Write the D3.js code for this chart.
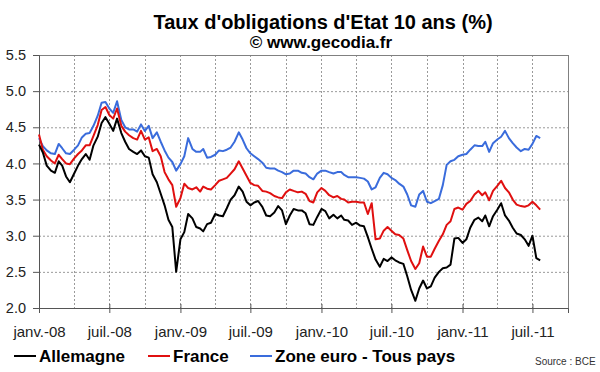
<!DOCTYPE html>
<html>
<head>
<meta charset="utf-8">
<script src="https://cdnjs.cloudflare.com/ajax/libs/d3/7.8.5/d3.min.js"></script>
<style>
body { margin: 0; background: #fff; }
svg { font-family: "Liberation Sans", Arial, sans-serif; }
.grid line { stroke: #9a9a9a; stroke-width: 1; stroke-dasharray: 2,2; }
.axis text { fill: #222; font-size: 14.5px; }
.x.axis text { font-size: 15px; }
.axis line { stroke: #555; }
</style>
</head>
<body>
<svg id="chart" width="600" height="372"></svg>
<script>
// 3 readings per month (1st, 11th, 21st)
var dates = [
  "2008-01-01","2008-01-11","2008-01-21","2008-02-01","2008-02-11","2008-02-21","2008-03-01","2008-03-11","2008-03-21",
  "2008-04-01","2008-04-11","2008-04-21","2008-05-01","2008-05-11","2008-05-21","2008-06-01","2008-06-11","2008-06-21",
  "2008-07-01","2008-07-11","2008-07-21","2008-08-01","2008-08-11","2008-08-21","2008-09-01","2008-09-11","2008-09-21",
  "2008-10-01","2008-10-11","2008-10-21","2008-11-01","2008-11-11","2008-11-21","2008-12-01","2008-12-11","2008-12-21",
  "2009-01-01","2009-01-11","2009-01-21","2009-02-01","2009-02-11","2009-02-21","2009-03-01","2009-03-11","2009-03-21",
  "2009-04-01","2009-04-11","2009-04-21","2009-05-01","2009-05-11","2009-05-21","2009-06-01","2009-06-11","2009-06-21",
  "2009-07-01","2009-07-11","2009-07-21","2009-08-01","2009-08-11","2009-08-21","2009-09-01","2009-09-11","2009-09-21",
  "2009-10-01","2009-10-11","2009-10-21","2009-11-01","2009-11-11","2009-11-21","2009-12-01","2009-12-11","2009-12-21",
  "2010-01-01","2010-01-11","2010-01-21","2010-02-01","2010-02-11","2010-02-21","2010-03-01","2010-03-11","2010-03-21",
  "2010-04-01","2010-04-11","2010-04-21","2010-05-01","2010-05-11","2010-05-21","2010-06-01","2010-06-11","2010-06-21",
  "2010-07-01","2010-07-11","2010-07-21","2010-08-01","2010-08-11","2010-08-21","2010-09-01","2010-09-11","2010-09-21",
  "2010-10-01","2010-10-11","2010-10-21","2010-11-01","2010-11-11","2010-11-21","2010-12-01","2010-12-11","2010-12-21",
  "2011-01-01","2011-01-11","2011-01-21","2011-02-01","2011-02-11","2011-02-21","2011-03-01","2011-03-11","2011-03-21",
  "2011-04-01","2011-04-11","2011-04-21","2011-05-01","2011-05-11","2011-05-21","2011-06-01","2011-06-11","2011-06-21",
  "2011-07-01","2011-07-11","2011-07-21"
];

var allemagne = [
  4.26,4.15,3.97,3.90,3.87,4.03,3.97,3.82,3.74,3.86,3.97,4.06,4.13,4.05,4.25,4.37,4.56,4.64,
  4.55,4.45,4.62,4.42,4.30,4.20,4.16,4.13,4.18,4.10,4.08,3.85,3.74,3.58,3.42,3.22,3.12,2.50,
  2.95,3.05,3.30,3.24,3.12,3.10,3.06,3.16,3.18,3.30,3.28,3.27,3.38,3.50,3.56,3.68,3.61,3.47,
  3.42,3.46,3.48,3.40,3.28,3.27,3.32,3.41,3.35,3.16,3.28,3.37,3.35,3.35,3.31,
  3.16,3.15,3.26,3.37,3.34,3.24,3.29,3.24,3.28,3.22,3.21,3.15,3.18,3.14,3.13,2.98,2.82,2.67,
  2.57,2.68,2.65,2.70,2.66,2.63,2.61,2.44,2.25,2.10,2.27,2.38,2.27,2.30,2.42,2.50,
  2.55,2.56,2.60,2.96,2.97,2.90,2.95,3.11,3.22,3.25,3.20,3.28,3.13,3.27,3.36,3.45,3.28,3.21,
  3.11,3.03,3.01,2.95,2.86,3.00,2.69,2.66
];

var france = [
  4.40,4.19,4.10,4.04,4.00,4.12,4.06,4.00,3.99,4.07,4.13,4.18,4.25,4.25,4.38,4.53,4.74,4.78,
  4.67,4.62,4.76,4.52,4.44,4.39,4.35,4.33,4.45,4.33,4.36,4.17,4.20,4.10,3.88,3.78,3.70,3.40,
  3.52,3.72,3.66,3.64,3.67,3.61,3.68,3.65,3.64,3.70,3.76,3.78,3.80,3.86,3.92,4.03,3.93,3.83,
  3.73,3.70,3.69,3.62,3.61,3.59,3.55,3.53,3.52,3.60,3.64,3.62,3.60,3.61,3.58,
  3.48,3.46,3.60,3.66,3.62,3.56,3.53,3.55,3.51,3.50,3.46,3.47,3.47,3.46,3.46,3.30,3.45,2.95,
  2.96,3.07,3.12,3.07,3.02,3.01,2.96,2.80,2.65,2.54,2.62,2.85,2.71,2.71,2.82,2.93,
  3.02,3.15,3.20,3.37,3.39,3.36,3.44,3.48,3.57,3.62,3.56,3.60,3.49,3.62,3.69,3.76,3.66,3.60,
  3.50,3.43,3.41,3.40,3.42,3.47,3.42,3.36
];

var zoneEuro = [
  4.35,4.24,4.18,4.14,4.13,4.27,4.21,4.14,4.13,4.19,4.25,4.36,4.41,4.42,4.52,4.66,4.84,4.85,
  4.76,4.70,4.86,4.60,4.50,4.47,4.47,4.44,4.54,4.45,4.52,4.35,4.43,4.30,4.18,4.08,4.02,3.90,
  3.99,4.10,4.35,4.20,4.16,4.16,4.20,4.08,4.09,4.12,4.18,4.17,4.19,4.22,4.30,4.43,4.33,4.21,
  4.14,4.10,4.06,4.01,3.94,3.93,3.93,3.90,3.88,3.85,3.86,3.90,3.90,3.87,3.86,
  3.81,3.78,3.86,3.90,3.90,3.88,3.86,3.88,3.88,3.84,3.81,3.81,3.81,3.80,3.79,3.75,3.64,3.67,
  3.80,3.87,3.85,3.80,3.77,3.72,3.68,3.57,3.42,3.40,3.57,3.62,3.47,3.45,3.48,3.51,
  3.70,3.98,4.03,4.05,4.10,4.12,4.13,4.19,4.25,4.24,4.24,4.30,4.16,4.28,4.33,4.37,4.45,4.35,
  4.28,4.22,4.17,4.20,4.19,4.27,4.38,4.35
];

var yTicks = [2.0, 2.5, 3.0, 3.5, 4.0, 4.5, 5.0, 5.5];
var xTicks = ["2008-01-01","2008-07-01","2009-01-01","2009-07-01","2010-01-01","2010-07-01","2011-01-01","2011-07-01"];
var xTickLabels = ["janv.-08","juil.-08","janv.-09","juil.-09","janv.-10","juil.-10","janv.-11","juil.-11"];
var xGrid = ["2008-04-01","2008-07-01","2008-10-01","2009-01-01","2009-04-01","2009-07-01","2009-10-01",
  "2010-01-01","2010-04-01","2010-07-01","2010-10-01","2011-01-01","2011-04-01","2011-07-01"];
var seriesNames = ["Allemagne", "France", "Zone euro - Tous pays"];
var seriesColors = ["#000000", "#e01010", "#3a6cdc"];

var margin = {top: 55, right: 32, bottom: 64, left: 39},
    width = 600 - margin.left - margin.right,
    height = 372 - margin.top - margin.bottom;

var parse = d3.timeParse("%Y-%m-%d");

var x = d3.scaleTime()
    .domain([parse("2008-01-01"), parse("2011-10-01")])
    .range([0, width]);

var y = d3.scaleLinear()
    .domain([2, 5.5])
    .range([height, 0]);

var svg = d3.select("#chart");

// titles
svg.append("text")
    .attr("x", 323).attr("y", 29)
    .attr("text-anchor", "middle")
    .style("font-size", "20px").style("font-weight", "bold")
    .text("Taux d'obligations d'Etat 10 ans (%)");

svg.append("text")
    .attr("x", 321).attr("y", 48)
    .attr("text-anchor", "middle")
    .style("font-size", "17px").style("font-weight", "bold")
    .text("\u00a9 www.gecodia.fr");

var g = svg.append("g")
    .attr("transform", "translate(" + margin.left + "," + margin.top + ")");

// dotted grid
g.append("g").attr("class", "grid")
  .selectAll("line")
    .data(yTicks.slice(1, -1))
  .enter().append("line")
    .attr("x1", 0).attr("x2", width)
    .attr("y1", function(d) { return y(d) + 0.5; })
    .attr("y2", function(d) { return y(d) + 0.5; });

g.append("g").attr("class", "grid")
  .selectAll("line")
    .data(xGrid)
  .enter().append("line")
    .attr("x1", function(d) { return Math.round(x(parse(d))) + 0.5; })
    .attr("x2", function(d) { return Math.round(x(parse(d))) + 0.5; })
    .attr("y1", 0).attr("y2", height);

g.append("rect")
    .attr("x", 0.5).attr("y", 0.5)
    .attr("width", width).attr("height", height)
    .attr("fill", "none")
    .attr("stroke", "#808080");

// axes
var yAxis = d3.axisLeft(y)
    .tickValues(yTicks)
    .tickSize(6)
    .tickPadding(7)
    .tickFormat(d3.format(".1f"));

g.append("g")
    .attr("class", "y axis")
    .call(yAxis)
    .call(function(s) { s.select(".domain").attr("stroke", "#555"); });

var xAxis = d3.axisBottom(x)
    .tickValues(xTicks.map(parse))
    .tickSize(5)
    .tickFormat(function(d, i) { return xTickLabels[i]; });

var xg = g.append("g")
    .attr("class", "x axis")
    .attr("transform", "translate(0," + height + ")")
    .call(xAxis);
xg.select(".domain").attr("stroke", "#555");
xg.selectAll(".tick line").attr("y1", -4).attr("y2", 5);
xg.selectAll(".tick text").attr("y", 18);

// lines
var line = d3.line()
    .x(function(d) { return x(d.date); })
    .y(function(d) { return y(d.v); });

var series = [allemagne, france, zoneEuro].map(function(vals, i) {
  return {
    name: seriesNames[i],
    color: seriesColors[i],
    values: vals.map(function(v, j) { return {date: parse(dates[j]), v: v}; })
  };
});

g.selectAll(".serie")
    .data(series.slice().reverse())
  .enter().append("path")
    .attr("class", "serie")
    .attr("fill", "none")
    .attr("stroke", function(d) { return d.color; })
    .attr("stroke-width", 2)
    .attr("stroke-linejoin", "round")
    .attr("d", function(d) { return line(d.values); });

// legend
var legendX = [14, 148, 250];
var legend = svg.selectAll(".legend")
    .data(series)
  .enter().append("g")
    .attr("class", "legend")
    .attr("transform", function(d, i) { return "translate(" + legendX[i] + ",356)"; });

legend.append("line")
    .attr("x1", 0).attr("x2", 22)
    .attr("stroke", function(d) { return d.color; })
    .attr("stroke-width", 2);

legend.append("text")
    .attr("x", 25).attr("y", 6)
    .style("font-size", "17px").style("font-weight", "bold")
    .text(function(d) { return d.name; });

svg.append("text")
    .attr("x", 535).attr("y", 365)
    .style("font-size", "10px").style("fill", "#333")
    .text("Source : BCE");
</script>
</body>
</html>
